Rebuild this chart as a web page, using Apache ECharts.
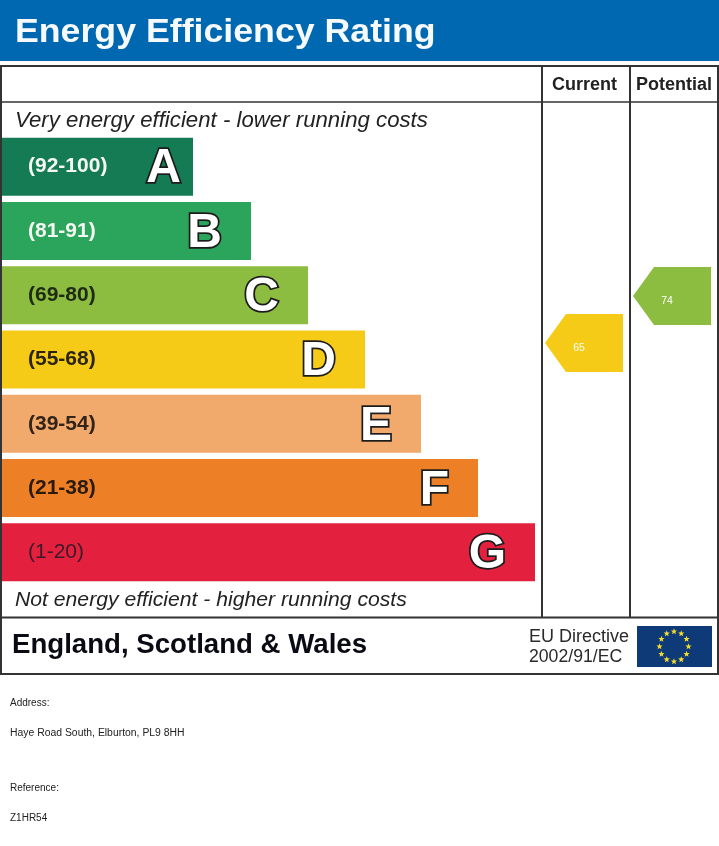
<!DOCTYPE html>
<html>
<head>
<meta charset="utf-8">
<title>Energy Efficiency Rating</title>
<style>html,body{margin:0;padding:0;background:#fff}#chart{width:719px;height:846px}</style>
<script src="https://cdn.jsdelivr.net/npm/echarts@6/dist/echarts.min.js"></script>
</head>
<body>
<div id="chart"></div>
<script>
// Rating bands, longest bar at the bottom
const bandLetters = ['A', 'B', 'C', 'D', 'E', 'F', 'G'];
const bandRanges = ['(92-100)', '(81-91)', '(69-80)', '(55-68)', '(39-54)', '(21-38)', '(1-20)'];
const bandLengths = [191, 249, 306, 363, 419, 476, 533];
// Ratings shown in the two right-hand columns
const ratingColumns = ['Current', 'Potential'];
const ratingValues = [65, 74];

const bandColors = ['#157b55', '#2ba55b', '#8cbc40', '#f6cb17', '#f2a96c', '#ed8026', '#e3203e'];
const rangeColors = ['#f4f7f2', '#f4f7f2', '#1f2a14', '#2a2410', '#33241a', '#2a1a0c', '#3a1a28'];

const FRAME = '#333333';
const SANS = '"Liberation Sans", Arial, sans-serif';

function bandIndexOf(value) {
  return bandRanges.findIndex(r => {
    const [lo, hi] = r.replace(/[()]/g, '').split('-').map(Number);
    return value >= lo && value <= hi;
  });
}

// Text placed by its left or centre point, with optional horizontal stretch
function label(x, y, text, font, fill, align, stretch) {
  return {
    type: 'text', silent: true, x, y, scaleX: stretch || 1,
    style: { x: 0, y: 0, text, font, fill: fill || '#1a1a1a', textAlign: align || 'left', textVerticalAlign: 'middle' }
  };
}
function hline(y, x1, x2, w) {
  return { type: 'line', silent: true, shape: { x1, y1: y, x2, y2: y }, style: { stroke: FRAME, lineWidth: w || 2 } };
}
function vline(x, y1, y2, w) {
  return { type: 'line', silent: true, shape: { x1: x, y1, x2: x, y2 }, style: { stroke: FRAME, lineWidth: w || 2 } };
}

// Ring of twelve five-pointed stars on the EU flag
function flagStars(cx, cy, rx, ry, size) {
  const out = [];
  for (let i = 0; i < 12; i++) {
    const a = i * Math.PI / 6;
    const sx = cx + rx * Math.sin(a), sy = cy - ry * Math.cos(a);
    const points = [];
    for (let k = 0; k < 10; k++) {
      const r = k % 2 ? size * 0.42 : size;
      const t = k * Math.PI / 5;
      points.push([sx + r * Math.sin(t), sy - r * Math.cos(t)]);
    }
    out.push({ type: 'polygon', silent: true, shape: { points }, style: { fill: '#f5dc2e' } });
  }
  return out;
}

const chart = echarts.init(document.getElementById('chart'), null, { renderer: 'canvas' });

chart.setOption({
  animation: false,
  backgroundColor: '#ffffff',
  graphic: { elements: [
    { type: 'rect', silent: true, shape: { x: 0, y: 0, width: 719, height: 61 }, style: { fill: '#0068b1' } },
    label(15, 32.5, 'Energy Efficiency Rating', 'bold 34px ' + SANS, '#f6fafc', 'left', 1.05),

    hline(66, 1, 718), hline(102, 1, 718, 1.5), hline(617.5, 1, 718), hline(674, 1, 718),
    vline(1, 65, 675), vline(718, 65, 675),
    vline(542, 65, 617), vline(630, 65, 617),

    label(584.5, 85, ratingColumns[0], 'bold 18px ' + SANS, '#222222', 'center'),
    label(674, 85, ratingColumns[1], 'bold 18px ' + SANS, '#222222', 'center'),

    label(15, 120.5, 'Very energy efficient - lower running costs', 'italic 22px ' + SANS, '#222222', 'left', 1.01),
    label(15, 600.5, 'Not energy efficient - higher running costs', 'italic 21px ' + SANS, '#222222', 'left', 1.008),

    label(12, 645.5, 'England, Scotland & Wales', 'bold 27px ' + SANS, '#0a0a14', 'left', 1.023),
    label(529, 637, 'EU Directive', '18px ' + SANS, '#2a2a2a'),
    label(529, 657.5, '2002/91/EC', '18px ' + SANS, '#2a2a2a', 'left', 0.98),

    { type: 'rect', silent: true, shape: { x: 637, y: 626, width: 75, height: 41 }, style: { fill: '#0e3a78' } },
    ...flagStars(674, 646.5, 14.5, 15, 3.3),

    label(10, 703, 'Address:', '10px ' + SANS, '#222222'),
    label(10, 733, 'Haye Road South, Elburton, PL9 8HH', '10px ' + SANS, '#222222', 'left', 1.04),
    label(10, 788, 'Reference:', '10px ' + SANS, '#222222'),
    label(10, 818, 'Z1HR54', '10px ' + SANS, '#222222')
  ] },
  grid: [
    { left: 2, top: 134.5, width: 717, height: 450 },
    { left: 542, top: 102, width: 176, height: 515 }
  ],
  xAxis: [
    { gridIndex: 0, type: 'value', min: 0, max: 717, show: false },
    { gridIndex: 1, type: 'category', data: ratingColumns, show: false }
  ],
  yAxis: [
    { gridIndex: 0, type: 'category', data: bandLetters, inverse: true, show: false },
    { gridIndex: 1, type: 'value', min: 12.5, max: 111.2, show: false }
  ],
  series: [
    {
      name: 'Band range',
      type: 'bar',
      xAxisIndex: 0, yAxisIndex: 0,
      barWidth: 58,
      barGap: '-100%',
      data: bandLengths.map((v, i) => ({
        value: v,
        itemStyle: { color: bandColors[i] },
        label: {
          color: rangeColors[i],
          fontWeight: i === 6 ? 'normal' : 'bold'
        }
      })),
      label: {
        show: true,
        position: 'insideLeft',
        distance: 26,
        fontFamily: SANS,
        fontSize: 21,
        formatter: p => bandRanges[p.dataIndex]
      }
    },
    {
      name: 'Band letter',
      type: 'bar',
      xAxisIndex: 0, yAxisIndex: 0,
      barWidth: 58,
      barGap: '-100%',
      itemStyle: { color: 'transparent' },
      data: bandLengths.map((v, i) => ({
        value: v,
        label: { distance: i === 0 ? 12 : 29 }
      })),
      label: {
        show: true,
        position: 'insideRight',
        offset: [0, 2.5],
        fontFamily: SANS,
        fontWeight: 'bold',
        fontSize: 48,
        color: '#ffffff',
        textBorderColor: '#1c1c1c',
        textBorderWidth: 3.5,
        formatter: p => bandLetters[p.dataIndex]
      }
    },
    {
      name: 'Rating',
      type: 'custom',
      xAxisIndex: 1, yAxisIndex: 1,
      data: ratingValues.map((v, i) => [i, v]),
      encode: { x: 0, y: 1 },
      renderItem: (params, api) => {
        const value = api.value(1);
        const [cx, cy] = api.coord([api.value(0), value]);
        const c = cx - 2;
        return {
          type: 'group',
          children: [
            {
              type: 'polygon',
              shape: { points: [[c - 39, cy], [c - 18, cy - 29], [c + 39, cy - 29], [c + 39, cy + 29], [c - 18, cy + 29]] },
              style: { fill: bandColors[bandIndexOf(value)] }
            },
            {
              type: 'text',
              style: { x: c - 5, y: cy + 5.5, text: String(value), fill: '#ffffff', font: '10.5px ' + SANS, textAlign: 'center', textVerticalAlign: 'middle' }
            }
          ]
        };
      }
    }
  ]
});
</script>
</body>
</html>
